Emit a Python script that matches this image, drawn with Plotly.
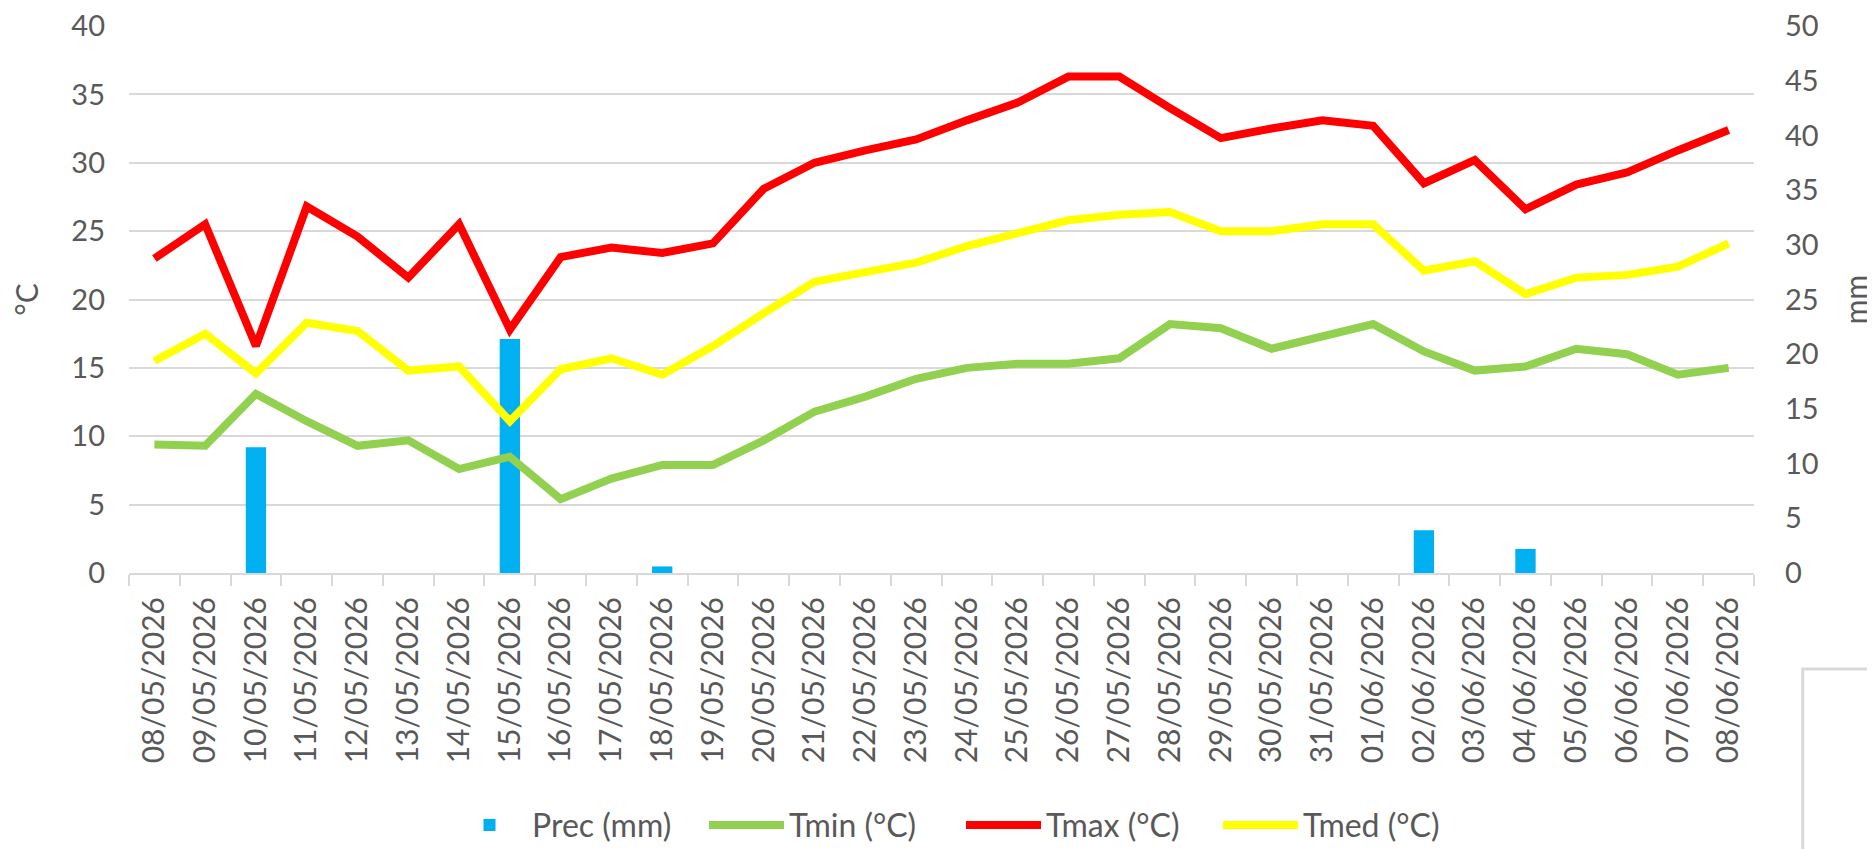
import plotly.graph_objects as go

dates = ["08/05/2026", "09/05/2026", "10/05/2026", "11/05/2026", "12/05/2026", "13/05/2026",
         "14/05/2026", "15/05/2026", "16/05/2026", "17/05/2026", "18/05/2026", "19/05/2026",
         "20/05/2026", "21/05/2026", "22/05/2026", "23/05/2026", "24/05/2026", "25/05/2026",
         "26/05/2026", "27/05/2026", "28/05/2026", "29/05/2026", "30/05/2026", "31/05/2026",
         "01/06/2026", "02/06/2026", "03/06/2026", "04/06/2026", "05/06/2026", "06/06/2026",
         "07/06/2026", "08/06/2026"]

prec = [0, 0, 11.5, 0, 0, 0, 0, 21.4, 0, 0, 0.6, 0,
        0, 0, 0, 0, 0, 0, 0, 0, 0, 0, 0, 0,
        0, 3.9, 0, 2.2, 0, 0, 0, 0]

tmin = [9.4, 9.3, 13.1, 11.1, 9.3, 9.7, 7.6, 8.5, 5.4, 6.9, 7.9, 7.9,
        9.7, 11.8, 12.9, 14.2, 15.0, 15.3, 15.3, 15.7, 18.2, 17.9, 16.4, 17.3,
        18.2, 16.2, 14.8, 15.1, 16.4, 16.0, 14.5, 15.0]

tmax = [23.0, 25.5, 16.6, 26.8, 24.6, 21.6, 25.5, 17.8, 23.1, 23.8, 23.4, 24.1,
        28.1, 30.0, 30.9, 31.7, 33.1, 34.4, 36.3, 36.3, 34.0, 31.8, 32.5, 33.1,
        32.7, 28.5, 30.2, 26.6, 28.4, 29.3, 30.9, 32.4]

tmed = [15.5, 17.5, 14.6, 18.3, 17.7, 14.8, 15.1, 11.1, 14.9, 15.7, 14.5, 16.6,
        19.0, 21.3, 22.0, 22.7, 23.9, 24.9, 25.8, 26.2, 26.4, 25.0, 25.0, 25.5,
        25.5, 22.1, 22.8, 20.4, 21.6, 21.8, 22.4, 24.1]

temp_ticks = [0, 5, 10, 15, 20, 25, 30, 35, 40]
mm_ticks = [0, 5, 10, 15, 20, 25, 30, 35, 40, 45, 50]

FONT = "Lato"
TXT = "#595959"
GRID = "#d9d9d9"

fig = go.Figure()
fig.add_trace(go.Bar(x=dates, y=prec, name="Prec (mm)", marker=dict(color="#00B0F0", line=dict(width=0)),
                     yaxis="y"))
fig.add_trace(go.Scatter(x=dates, y=tmin, name="Tmin (°C)", mode="lines",
                         line=dict(color="#92D050", width=8), yaxis="y2"))
fig.add_trace(go.Scatter(x=dates, y=tmax, name="Tmax (°C)", mode="lines",
                         line=dict(color="#FF0000", width=8), yaxis="y2"))
fig.add_trace(go.Scatter(x=dates, y=tmed, name="Tmed (°C)", mode="lines",
                         line=dict(color="#FFFF00", width=8), yaxis="y2"))

fig.update_layout(
    width=1875, height=849,
    margin=dict(l=121, r=129, t=18, b=284, autoexpand=False),
    paper_bgcolor="white", plot_bgcolor="white",
    font=dict(family=FONT, size=29, color=TXT),
    bargap=0.6,
    showlegend=True,
    legend=dict(orientation="h", x=0.512, xanchor="center", y=-0.461, yanchor="middle",
                font=dict(size=32, color=TXT), itemwidth=75, tracegroupgap=0,
                entrywidth=167, entrywidthmode="pixels"),
    xaxis=dict(type="category", tickangle=-90, showgrid=False,
               showline=True, linecolor=GRID, linewidth=2,
               ticks="outside", tickson="boundaries", ticklen=11, tickcolor=GRID, tickwidth=2,
               tickfont=dict(size=30, color=TXT), ticklabelstandoff=10),
    yaxis=dict(side="right", range=[0, 50], tickvals=mm_ticks, showgrid=False, zeroline=False,
               showline=False, ticks="", tickfont=dict(size=29, color=TXT), ticklabelstandoff=30,
               ticklabeloverflow="allow",
               title=dict(text="mm", font=dict(size=30, color=TXT), standoff=28)),
    yaxis2=dict(side="left", overlaying="y", range=[0, 40], tickvals=temp_ticks,
                showgrid=True, gridcolor=GRID, gridwidth=2, zeroline=False, showline=False, ticks="",
                tickfont=dict(size=29, color=TXT), ticklabelstandoff=23,
                ticklabeloverflow="allow",
                title=dict(text="°C", font=dict(size=30, color=TXT), standoff=24)),
    shapes=[dict(type="rect", xref="paper", yref="paper", x0=1.030, x1=1.08, y0=-0.1755, y1=-0.55,
                 line=dict(color=GRID, width=3), fillcolor="rgba(0,0,0,0)", layer="above")],
)

fig.write_html("out.html")
